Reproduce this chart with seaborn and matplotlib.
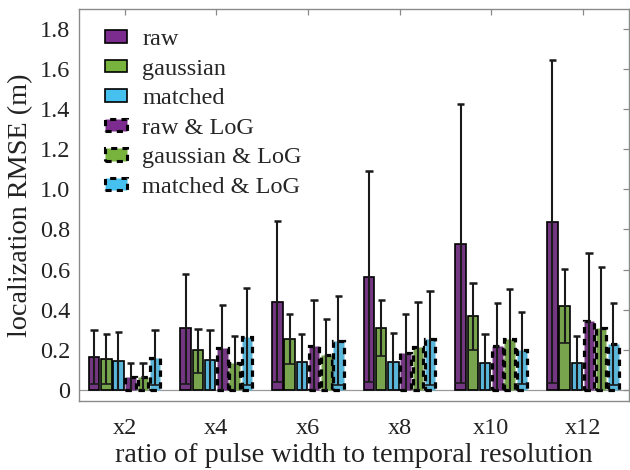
import matplotlib
matplotlib.use("Agg")
import matplotlib.pyplot as plt
from matplotlib.patches import Patch
from matplotlib.ticker import FuncFormatter
import numpy as np
import pandas as pd
import seaborn as sns

ratios = ["x2", "x4", "x6", "x8", "x10", "x12"]
methods = ["raw", "gaussian", "matched", "raw & LoG", "gaussian & LoG", "matched & LoG"]

# bar height (mean RMSE)
raw = [0.165, 0.308, 0.437, 0.565, 0.728, 0.836]
gaussian = [0.155, 0.200, 0.254, 0.311, 0.366, 0.419]
matched = [0.145, 0.150, 0.138, 0.141, 0.136, 0.133]
raw_log = [0.063, 0.211, 0.221, 0.186, 0.219, 0.346]
gaussian_log = [0.066, 0.133, 0.175, 0.216, 0.253, 0.308]
matched_log = [0.161, 0.266, 0.244, 0.254, 0.200, 0.229]

# upper whisker (cap)
raw_hi = [0.300, 0.579, 0.840, 1.092, 1.426, 1.646]
gaussian_hi = [0.278, 0.304, 0.377, 0.449, 0.532, 0.602]
matched_hi = [0.290, 0.300, 0.278, 0.286, 0.278, 0.269]
raw_log_hi = [0.133, 0.424, 0.449, 0.379, 0.435, 0.685]
gaussian_log_hi = [0.136, 0.269, 0.352, 0.437, 0.504, 0.615]
matched_log_hi = [0.300, 0.510, 0.469, 0.494, 0.386, 0.435]

# inner line (lower end of whisker)
raw_lo = [0.028, 0.030, 0.038, 0.041, 0.033, 0.032]
gaussian_lo = [0.028, 0.086, 0.130, 0.170, 0.200, 0.233]
matched_lo = [0.0, 0.0, 0.0, 0.0, 0.0, 0.0]
raw_log_lo = [0.0, 0.0, 0.0, 0.0, 0.0, 0.0]
gaussian_log_lo = [0.0, 0.0, 0.0, 0.0, 0.0, 0.0]
matched_log_lo = [0.022, 0.025, 0.025, 0.025, 0.028, 0.025]

means = [raw, gaussian, matched, raw_log, gaussian_log, matched_log]
highs = [raw_hi, gaussian_hi, matched_hi, raw_log_hi, gaussian_log_hi, matched_log_hi]
lows = [raw_lo, gaussian_lo, matched_lo, raw_log_lo, gaussian_log_lo, matched_log_lo]

colors = ["#7c2b8e", "#77b33d", "#45c0ef", "#7c2b8e", "#77b33d", "#45c0ef"]
dash = (0, (2.0, 1.7))

df = pd.DataFrame(
    [(r, m, means[j][i]) for j, m in enumerate(methods) for i, r in enumerate(ratios)],
    columns=["ratio", "method", "rmse"],
)

sns.set_style("white")
plt.rcParams["font.family"] = ["Liberation Serif", "DejaVu Serif"]

fig = plt.figure(figsize=(6.3, 4.7), dpi=100)
ax = fig.add_axes([0.125, 0.147, 0.873, 0.834])

sns.barplot(
    data=df, x="ratio", y="rmse", hue="method",
    order=ratios, hue_order=methods, palette=colors,
    errorbar=None, width=0.8, gap=0.14,
    edgecolor="black", linewidth=1.2, legend=False, ax=ax,
)

for j, cont in enumerate(ax.containers):
    for i, bar in enumerate(cont):
        if j >= 3:
            bar.set_linestyle(dash)
            bar.set_linewidth(2.3)
        xc = bar.get_x() + bar.get_width() / 2
        w = bar.get_width()
        ax.vlines(xc, lows[j][i], highs[j][i], color="#1a1a1a", lw=1.5, zorder=5)
        ax.hlines(highs[j][i], xc - 0.04, xc + 0.04, color="#1a1a1a", lw=1.8, zorder=5)
        if lows[j][i] > 0:
            ax.hlines(lows[j][i], xc - w / 2, xc + w / 2, color="#1a1a1a", lw=1.2, zorder=5)

ax.axhline(0, color="#999999", lw=0.9, zorder=0)
ax.set_xlim(-0.5, 5.5)
ax.set_ylim(-0.055, 1.9)
ax.set_yticks(np.arange(0, 1.81, 0.2))
ax.yaxis.set_major_formatter(FuncFormatter(lambda v, p: "0" if abs(v) < 1e-9 else f"{v:.1f}"))

for s in ax.spines.values():
    s.set_color("#8a8a8a")
    s.set_linewidth(1.0)
ax.tick_params(direction="in", length=4, width=0.9, color="#8a8a8a",
               top=True, right=True, labelsize=17.5, labelcolor="#222222")
ax.tick_params(axis="x", pad=12)
ax.tick_params(axis="y", pad=6)

ax.set_xlabel("ratio of pulse width to temporal resolution", fontsize=20.3, color="#222222", labelpad=3)
ax.set_ylabel("localization RMSE (m)", fontsize=20.3, color="#222222", labelpad=5)

handles = []
for j, m in enumerate(methods):
    if j < 3:
        handles.append(Patch(facecolor=colors[j], edgecolor="black", lw=1.2, label=m))
    else:
        handles.append(Patch(facecolor=colors[j], edgecolor="black", lw=2.2,
                             linestyle=dash, label=m))
ax.legend(handles=handles, loc="upper left", bbox_to_anchor=(0.017, 0.992), frameon=False,
          fontsize=17.5, handlelength=0.9, handleheight=0.42, handletextpad=0.62,
          labelspacing=0.35, borderaxespad=0.3)

fig.savefig("out.png", dpi=100)
